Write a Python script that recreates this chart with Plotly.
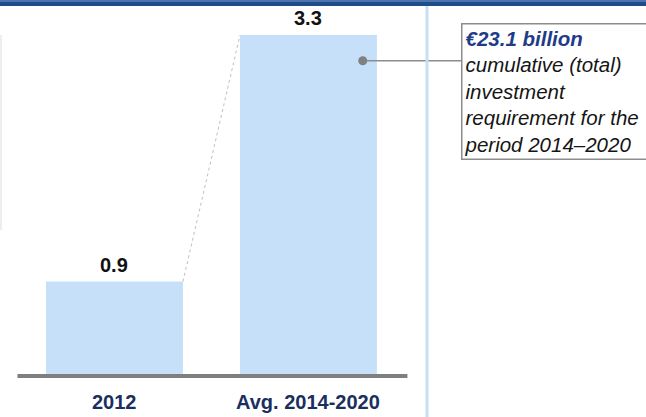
import plotly.graph_objects as go

categories = ["2012", "Avg. 2014-2020"]
values = [0.9, 3.3]
value_labels = ["0.9", "3.3"]
callout_title = "€23.1 billion"
callout_lines = ["cumulative (total)", "investment", "requirement for the", "period 2014–2020"]

xs = list(range(len(categories)))
bar_w = 0.706
W, H = 646, 417
x_range = [-0.590, 2.740]
y_range = [-0.419, 3.642]

fig = go.Figure()
fig.add_trace(go.Bar(x=xs, y=values, width=bar_w, marker=dict(color="#c6e0fa", line=dict(width=0)),
                     hoverinfo="skip"))

# dashed connector between bar tops
fig.add_trace(go.Scatter(x=[xs[0] + bar_w / 2, xs[1] - bar_w / 2], y=[values[0], values[1]],
                         mode="lines", line=dict(color="#c0c0c0", width=1, dash="dot"), hoverinfo="skip"))

# callout dot and leader
dot_x = xs[1] + 0.28
dot_y = values[1] - 0.25
box_x = 1.786
fig.add_trace(go.Scatter(x=[dot_x, box_x], y=[dot_y, dot_y], mode="lines",
                         line=dict(color="#8c8c8c", width=1.5), hoverinfo="skip"))
fig.add_trace(go.Scatter(x=[dot_x], y=[dot_y], mode="markers",
                         marker=dict(color="#808080", size=9), hoverinfo="skip"))

annotations = []
for x, v, t in zip(xs, values, value_labels):
    annotations.append(dict(x=x, y=v, text="<b>%s</b>" % t, showarrow=False, yanchor="bottom", yshift=4,
                            font=dict(family="Liberation Sans, Arial", size=20, color="#111111")))
for x, c in zip(xs, categories):
    annotations.append(dict(x=x, y=-0.273, text="<b>%s</b>" % c, showarrow=False, yanchor="middle",
                            font=dict(family="Liberation Sans, Arial", size=20, color="#1b2f5e")))

txt = "<b><span style='color:#1f3c88'>%s</span></b><br>%s" % (callout_title, "<br>".join(callout_lines))
annotations.append(dict(x=box_x, y=3.418, xref="x", yref="y", text="<i>%s</i>" % txt, showarrow=False,
                        xanchor="left", yanchor="top", align="left", width=205,
                        bordercolor="#8c8c8c", borderwidth=1.5, borderpad=2, bgcolor="white",
                        font=dict(family="Liberation Sans, Arial", size=20.5, color="#151515")))

shapes = [
    # top band
    dict(type="rect", xref="paper", yref="paper", x0=0, x1=1, y0=1 - 6 / H, y1=1,
         fillcolor="#1f4d8b", line=dict(width=0), layer="above"),
    dict(type="rect", xref="paper", yref="paper", x0=0, x1=1, y0=1 - 2 / H, y1=1,
         fillcolor="#4f74ad", line=dict(width=0), layer="above"),
    # vertical divider
    dict(type="line", xref="paper", yref="paper", x0=427 / W, x1=427 / W, y0=0, y1=1 - 6 / H,
         line=dict(color="#c9ddf6", width=3)),
    # faint left rule
    dict(type="line", xref="paper", yref="paper", x0=1 / W, x1=1 / W, y0=1 - 230 / H, y1=1 - 35 / H,
         line=dict(color="#eeeeee", width=2)),
    # baseline
    dict(type="line", xref="x", yref="y", x0=-0.50, x1=1.51, y0=-0.02, y1=-0.02,
         line=dict(color="#7f7f7f", width=4), layer="above"),
]

fig.update_layout(
    width=W, height=H, margin=dict(l=0, r=0, t=0, b=0),
    paper_bgcolor="white", plot_bgcolor="white", showlegend=False,
    xaxis=dict(range=x_range, visible=False, fixedrange=True),
    yaxis=dict(range=y_range, visible=False, fixedrange=True),
    annotations=annotations, shapes=shapes,
)
fig.write_html("out.html", config={"displayModeBar": False},
               post_script="document.body.style.margin='0';document.body.style.overflow='hidden';")
